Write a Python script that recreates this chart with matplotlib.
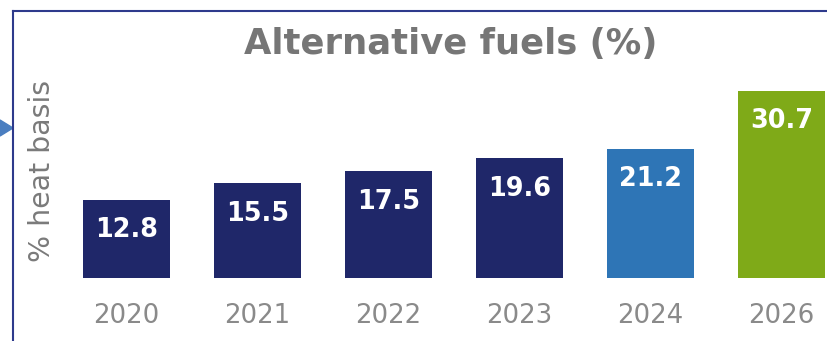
import matplotlib.pyplot as plt
from matplotlib.lines import Line2D
from matplotlib.patches import Polygon

years = ["2020", "2021", "2022", "2023", "2024", "2026"]
values = [12.8, 15.5, 17.5, 19.6, 21.2, 30.7]
colors = ["#1f2769", "#1f2769", "#1f2769", "#1f2769", "#2e75b6", "#7faa18"]

W, H = 827, 341
fig = plt.figure(figsize=(W / 100, H / 100), dpi=100)

# plot area: bars sit on y=278px, 131px per category
ax = fig.add_axes([0, 63 / H, 1, 278 / H])
x = list(range(len(years)))
ax.bar(x, values, width=0.665, color=colors)
ax.set_xlim(-126.5 / 131, (W - 126.5) / 131)
ax.set_ylim(0, 278 / 6.1)
for s in ax.spines.values():
    s.set_visible(False)
ax.set_yticks([])
ax.set_xticks(x)
ax.set_xticklabels(years, fontsize=18.7, color="#8a8a8a", family="DejaVu Sans")
ax.tick_params(axis="x", length=0, pad=18)

for i, v in zip(x, values):
    ax.annotate(f"{v}", (i, v), xytext=(0, -22), textcoords="offset points",
                ha="center", va="center", color="white", fontsize=18.4,
                fontweight="bold", family="DejaVu Sans")

fig.text(451 / W, 1 - 44 / H, "Alternative fuels (%)", ha="center", va="center",
         fontsize=25.5, fontweight="bold", color="#767676", family="DejaVu Sans")
fig.text(42 / W, 1 - 171 / H, "% heat basis", rotation=90, ha="center",
         va="center", fontsize=20.4, color="#7a7a7a", family="DejaVu Sans")

# frame lines and the pointer on the left edge
fig.add_artist(Line2D([13 / W, 13 / W], [0, 1 - 11 / H], color="#2e3a8c", lw=1.5))
fig.add_artist(Line2D([13 / W, 1], [1 - 11 / H, 1 - 11 / H], color="#2e3a8c", lw=1.5))
fig.add_artist(Polygon([[0, 1 - 120 / H], [13 / W, 1 - 128 / H], [0, 1 - 136 / H]],
                       closed=True, color="#4a7ec0", transform=fig.transFigure))

fig.savefig("out.png", dpi=100)
